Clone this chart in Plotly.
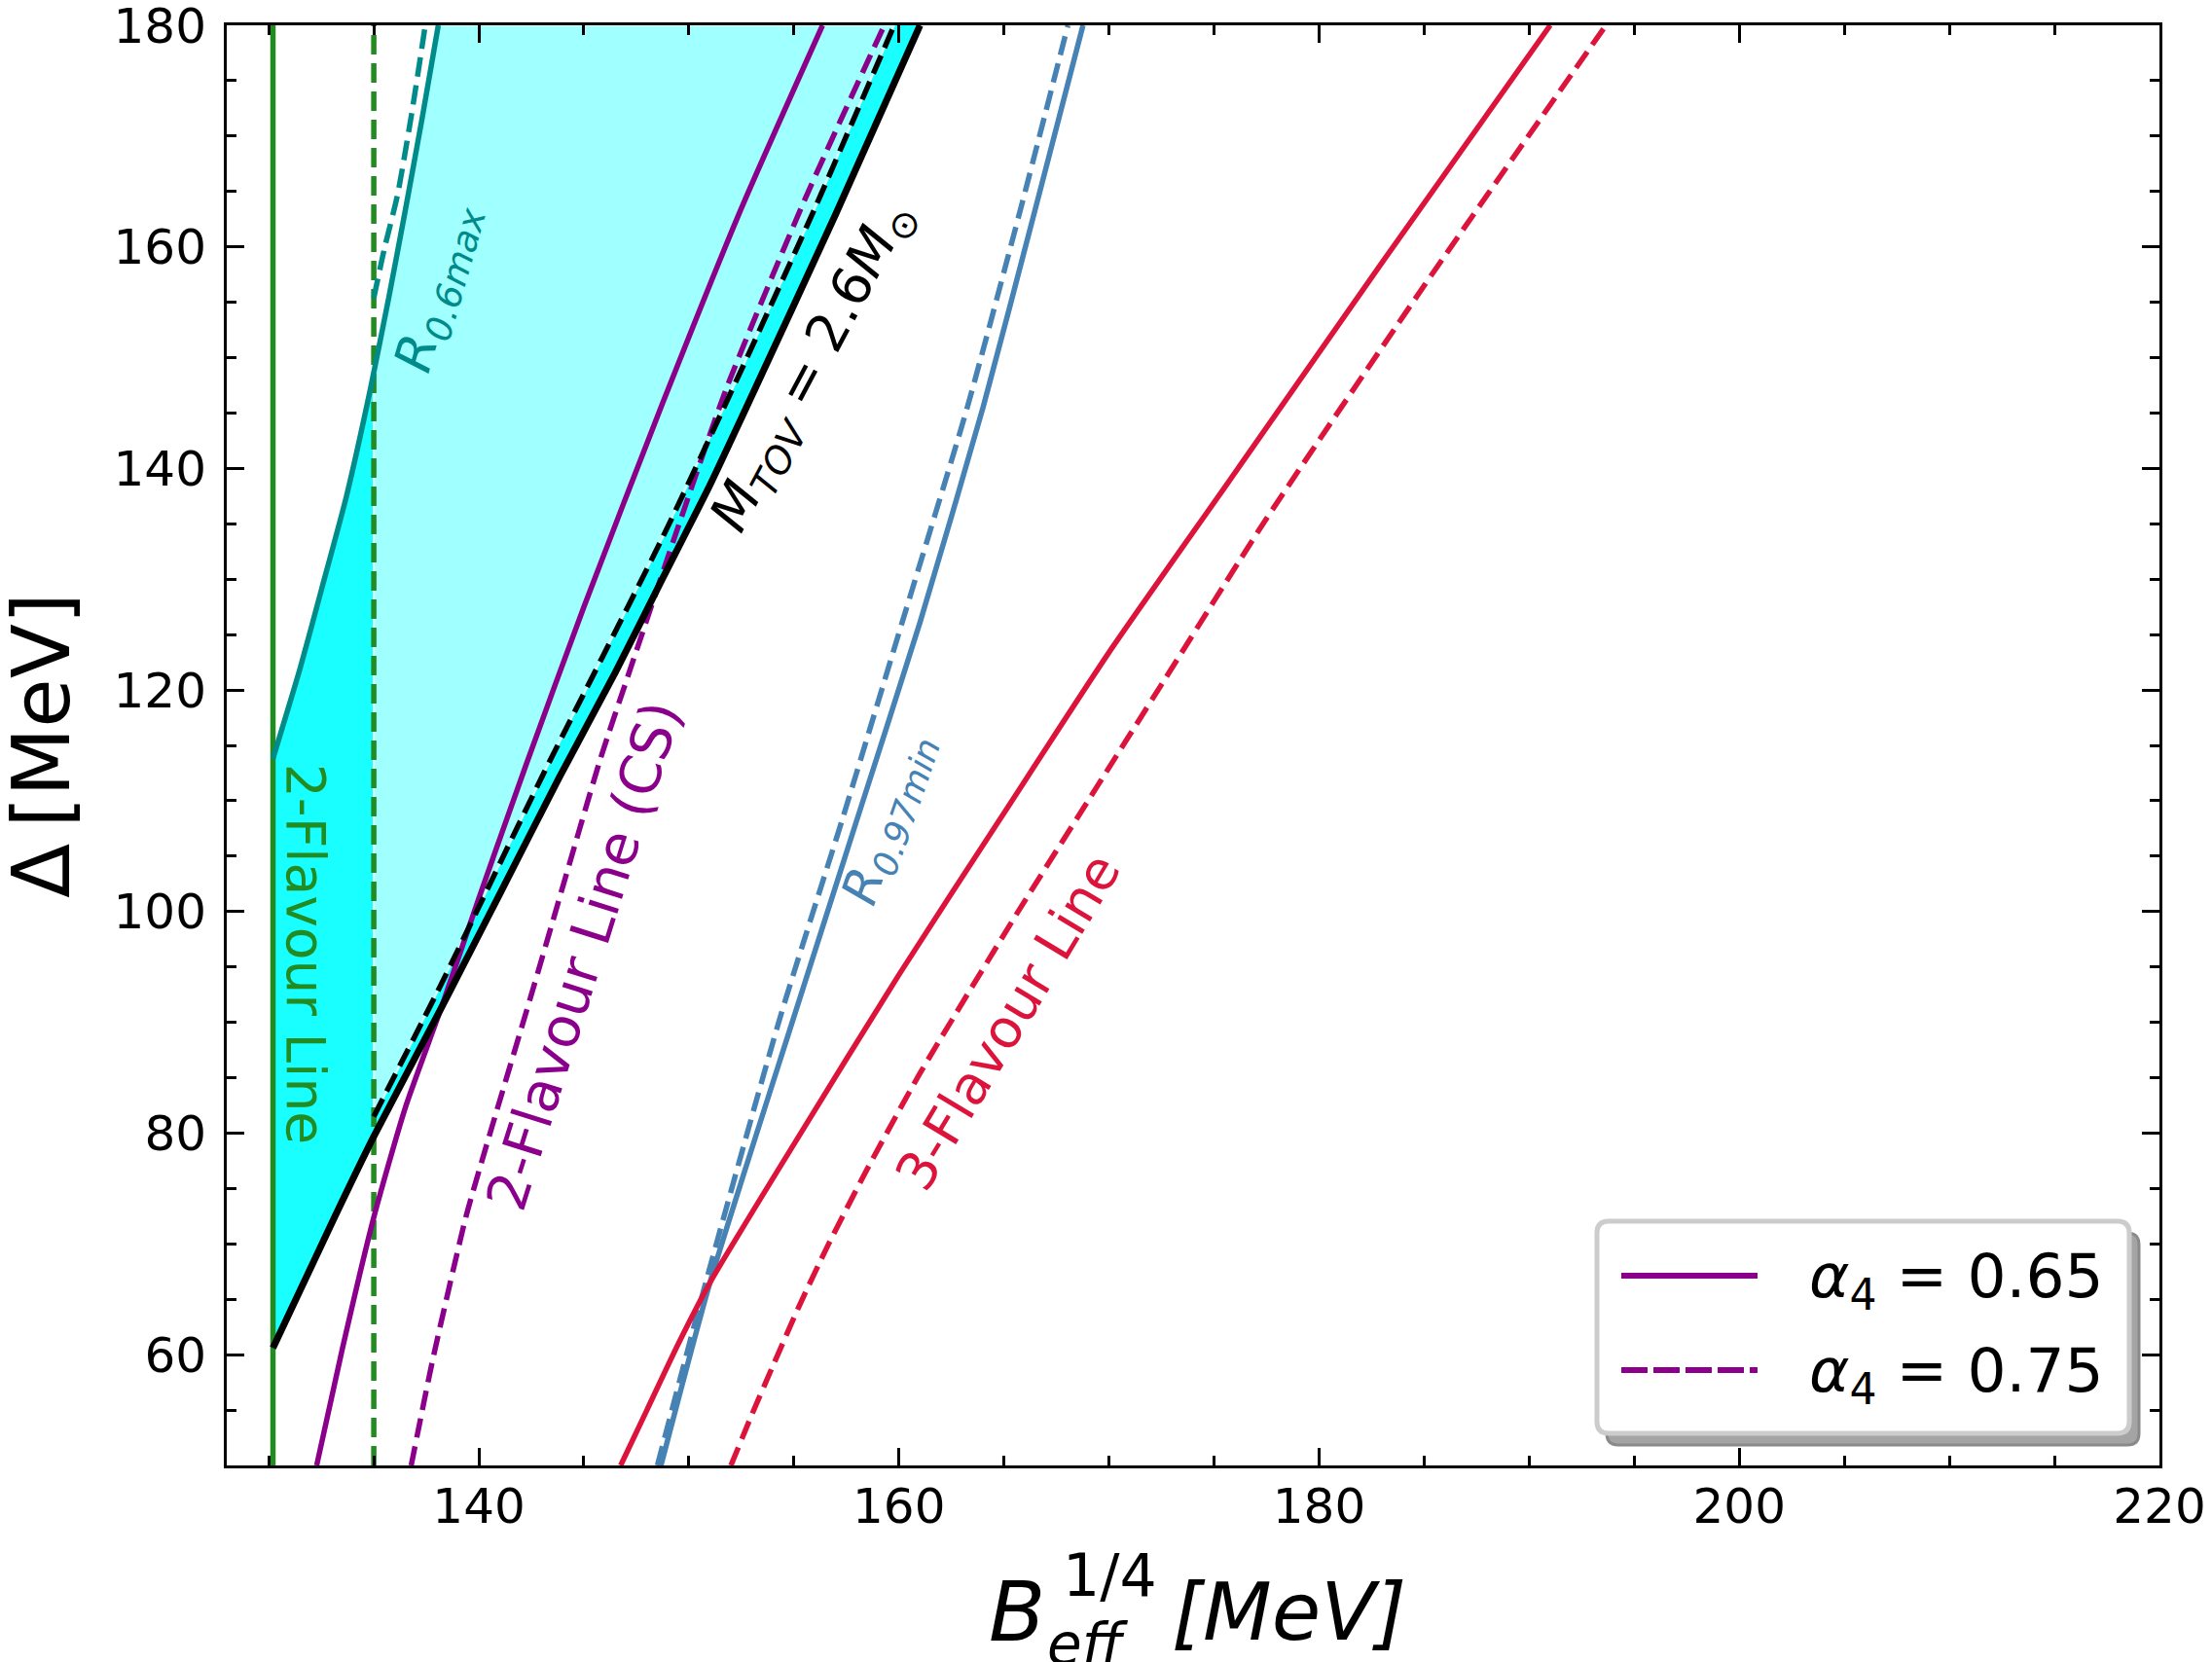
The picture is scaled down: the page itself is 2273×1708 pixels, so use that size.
import numpy as np
import plotly.graph_objects as go

# ---------------- data ----------------
x_range = [128, 220]
y_range = [50, 180]
x_ticks = [140, 160, 180, 200, 220]
y_ticks = [60, 80, 100, 120, 140, 160, 180]

two_flavour_065_x = 130.2
two_flavour_075_x = 135.0

r06max_065_x = [130.2, 131.5, 132.5, 133.7, 134.82, 135.7, 136.5, 137.3, 138.07]
r06max_065_y = [113.8, 122.0, 129.0, 137.5, 147.0, 155.3, 163.3, 171.6, 180.0]
r06max_075_x = [135.0, 135.5, 136.13, 136.8, 137.45]
r06max_075_y = [155.4, 159.8, 164.7, 172.0, 180.0]

cs_065_x = [132.28, 133.5, 135.0, 136.5, 138.2, 140.0, 142.24, 145.0, 148.73, 152.5, 156.36]
cs_065_y = [50.0, 60.5, 72.4, 82.3, 91.25, 101.2, 113.2, 127.5, 145.8, 163.5, 180.0]
cs_075_x = [136.78, 137.8, 139.38, 140.38, 142.5, 145.79, 147.07, 149.5, 151.8, 155.5, 159.3]
cs_075_y = [50.0, 59.5, 72.4, 79.0, 92.5, 113.8, 121.1, 134.8, 147.3, 164.2, 180.0]

mtov_065_x = [130.2, 133.13, 135.0, 138.2, 141.0, 143.8, 146.5, 148.73, 151.0, 153.1, 157.0, 161.0]
mtov_065_y = [60.6, 72.4, 79.7, 91.25, 101.6, 112.0, 121.6, 130.0, 138.5, 147.0, 163.0, 180.0]
mtov_075_x = [135.0, 138.25, 143.04, 148.73, 152.4, 156.0, 159.77]
mtov_075_y = [81.5, 93.6, 112.3, 133.7, 148.5, 163.5, 180.0]

r097min_065_x = [148.67, 151.0, 155.0, 158.0, 161.0, 164.0, 166.5, 168.76]
r097min_065_y = [50.0, 66.5, 90.5, 108.3, 126.1, 145.5, 163.5, 180.0]
r097min_075_x = [148.5, 150.8, 154.35, 157.3, 160.15, 163.25, 165.8, 168.04]
r097min_075_y = [50.0, 66.5, 90.5, 108.3, 126.1, 145.5, 163.5, 180.0]

three_flavour_065_x = [146.75, 148.0, 149.5, 151.06, 155.0, 160.0, 165.0, 170.0, 175.62, 183.0, 191.0]
three_flavour_065_y = [50.0, 55.0, 61.0, 66.7, 79.0, 94.3, 108.9, 123.4, 138.6, 158.6, 180.0]
three_flavour_075_x = [152.0, 153.0, 154.0, 155.3, 156.6, 158.5, 161.0, 165.64, 169.0, 172.6, 177.4, 185.0, 193.65]
three_flavour_075_y = [50.0, 54.6, 59.0, 64.6, 69.8, 76.8, 85.4, 99.9, 110.0, 120.8, 135.2, 156.5, 180.0]

legend_labels = ["<i>α</i><sub>4</sub> = 0.65", "<i>α</i><sub>4</sub> = 0.75"]

# ---------------- styles ----------------
GREEN = "#228B22"
TEAL = "#008B8B"
PURPLE = "#8B008B"
BLUE = "#4682B4"
RED = "#DC143C"
BRIGHT = "#19FFFF"
LIGHT = "#A0FFFF"
DASH = "20px,9px"
LW = 5.5
FONT = "DejaVu Sans"

W, H = 2273, 1708
L, R, T, B = 233, 2219, 26, 1506


def px_x(p):
    return (p - L) / (R - L)


def px_y(p):
    return (B - p) / (B - T)


fig = go.Figure()

# ---- fills ----
bx = [two_flavour_065_x] + r06max_065_x + mtov_065_x[::-1]
by = [mtov_065_y[0]] + r06max_065_y + mtov_065_y[::-1]
fig.add_trace(go.Scatter(x=bx, y=by, mode="lines", fill="toself", fillcolor=BRIGHT,
                         line=dict(width=0, color=BRIGHT), hoverinfo="skip"))

teal_at_g = float(np.interp(two_flavour_075_x, r06max_065_x, r06max_065_y))
tx = [x for x in r06max_065_x if x > two_flavour_075_x]
ty = [y for x, y in zip(r06max_065_x, r06max_065_y) if x > two_flavour_075_x]
lx = [two_flavour_075_x, two_flavour_075_x] + tx + mtov_075_x[::-1]
ly = [mtov_075_y[0], teal_at_g] + ty + mtov_075_y[::-1]
fig.add_trace(go.Scatter(x=lx, y=ly, mode="lines", fill="toself", fillcolor=LIGHT,
                         line=dict(width=2, color="#E6FFFF"), hoverinfo="skip"))


def line(x, y, color, dash=None, width=LW, shape="spline"):
    fig.add_trace(go.Scatter(x=x, y=y, mode="lines",
                             line=dict(color=color, width=width,
                                       dash=dash if dash else "solid",
                                       shape=shape, smoothing=0.6),
                             hoverinfo="skip"))


line([two_flavour_065_x] * 2, y_range, GREEN, shape="linear")
line([two_flavour_075_x] * 2, y_range, GREEN, DASH, shape="linear")
line(r06max_065_x, r06max_065_y, TEAL)
line(r06max_075_x, r06max_075_y, TEAL, DASH)
line(cs_065_x, cs_065_y, PURPLE)
line(cs_075_x, cs_075_y, PURPLE, DASH)
line(mtov_065_x, mtov_065_y, "black", width=7)
line(mtov_075_x, mtov_075_y, "black", DASH)
line(r097min_065_x, r097min_065_y, BLUE)
line(r097min_075_x, r097min_075_y, BLUE, DASH)
line(three_flavour_065_x, three_flavour_065_y, RED)
line(three_flavour_075_x, three_flavour_075_y, RED, DASH)

# ---- curve labels ----
labels = [
    ("2-Flavour Line", GREEN, 131.76, 96.2, 90, 55),
    ("<i>R</i><sub><i>0.6max</i></sub>", TEAL, 138.1, 156.3, -74, 53),
    ("<i>M</i><sub><i>TOV</i></sub> = 2.6<i>M</i><sub>⊙</sub>", "black", 155.93, 149.2, -62, 55),
    ("2-Flavour Line (CS)", PURPLE, 145.0, 96.0, -72.5, 57),
    ("<i>R</i><sub><i>0.97min</i></sub>", BLUE, 159.55, 108.3, -71, 51),
    ("3-Flavour Line", RED, 165.19, 90.06, -59, 55),
]
annotations = []
for txt, col, x, y, ang, size in labels:
    annotations.append(dict(text=txt, x=x, y=y, xref="x", yref="y", showarrow=False,
                            textangle=ang, xanchor="center", yanchor="middle",
                            font=dict(family=FONT, size=size, color=col)))

# ---- axis titles ----
annotations += [
    dict(text="<i>B</i>", x=px_x(1014), y=px_y(1656), xref="paper", yref="paper",
         xanchor="left", yanchor="middle", showarrow=False,
         font=dict(family=FONT, size=85, color="black")),
    dict(text="1/4", x=px_x(1090), y=px_y(1619), xref="paper", yref="paper",
         xanchor="left", yanchor="middle", showarrow=False,
         font=dict(family=FONT, size=60, color="black")),
    dict(text="<i>eff</i>", x=px_x(1074), y=px_y(1690), xref="paper", yref="paper",
         xanchor="left", yanchor="middle", showarrow=False,
         font=dict(family=FONT, size=58, color="black")),
    dict(text="<i>[MeV]</i>", x=px_x(1202), y=px_y(1656), xref="paper", yref="paper",
         xanchor="left", yanchor="middle", showarrow=False,
         font=dict(family=FONT, size=82, color="black")),
    dict(text="Δ\u2009[MeV]", x=px_x(42), y=px_y(766), xref="paper", yref="paper",
         xanchor="center", yanchor="middle", showarrow=False, textangle=-90,
         font=dict(family=FONT, size=82, color="black")),
]

# ---- legend (manual, matplotlib-like fancy box with shadow) ----
def rrect(x0p, x1p, ytop, ybot, r=12):
    x0, x1 = px_x(x0p), px_x(x1p)
    y1, y0 = px_y(ytop), px_y(ybot)
    rx, ry = r / (R - L), r / (B - T)
    return (f"M {x0+rx},{y0} L {x1-rx},{y0} Q {x1},{y0} {x1},{y0+ry} "
            f"L {x1},{y1-ry} Q {x1},{y1} {x1-rx},{y1} L {x0+rx},{y1} "
            f"Q {x0},{y1} {x0},{y1-ry} L {x0},{y0+ry} Q {x0},{y0} {x0+rx},{y0} Z")


shapes = [
    dict(type="path", path=rrect(1651, 2198, 1267, 1485), xref="paper", yref="paper",
         fillcolor="#A4A4A4", line=dict(color="#8A8A8A", width=3), layer="above"),
    dict(type="path", path=rrect(1641, 2188, 1255, 1473), xref="paper", yref="paper",
         fillcolor="white", line=dict(color="#CCCCCC", width=5), layer="above"),
    dict(type="line", x0=px_x(1666), x1=px_x(1806), y0=px_y(1311), y1=px_y(1311),
         xref="paper", yref="paper", line=dict(color=PURPLE, width=6), layer="above"),
    dict(type="line", x0=px_x(1666), x1=px_x(1806), y0=px_y(1408), y1=px_y(1408),
         xref="paper", yref="paper", line=dict(color=PURPLE, width=6, dash="27px,6px"),
         layer="above"),
]
for lab, yy in zip(legend_labels, [1311, 1408]):
    annotations.append(dict(text=lab, x=px_x(1857), y=px_y(yy + 4), xref="paper", yref="paper",
                            xanchor="left", yanchor="middle", showarrow=False,
                            font=dict(family=FONT, size=63, color="black")))

axis_common = dict(showline=True, linewidth=3, linecolor="black", mirror="allticks",
                   ticks="inside", ticklen=18, tickwidth=3, tickcolor="black",
                   showgrid=False, zeroline=False, ticklabeloverflow="allow",
                   automargin=False,
                   tickfont=dict(family=FONT, size=50, color="black"),
                   minor=dict(ticks="inside", ticklen=10, tickwidth=2.5, dtick=5,
                              tickcolor="black", showgrid=False))

fig.update_layout(
    width=W, height=H,
    margin=dict(l=L, r=W - R, t=T, b=H - B, autoexpand=False),
    plot_bgcolor="white", paper_bgcolor="white",
    showlegend=False,
    font=dict(family=FONT, size=50, color="black"),
    xaxis=dict(range=x_range, tickvals=x_ticks, ticklabelstandoff=-4, **axis_common),
    yaxis=dict(range=y_range, tickvals=y_ticks, ticklabelstandoff=8, **axis_common),
    annotations=annotations,
    shapes=shapes,
)
fig.update_xaxes(minor=dict(tick0=0))
fig.update_yaxes(minor=dict(tick0=0))

fig.write_html(
    "out.html",
    config={"displayModeBar": False},
    post_script="document.body.style.margin='0px';document.body.style.padding='0px';"
                "document.body.style.overflow='hidden';",
)
